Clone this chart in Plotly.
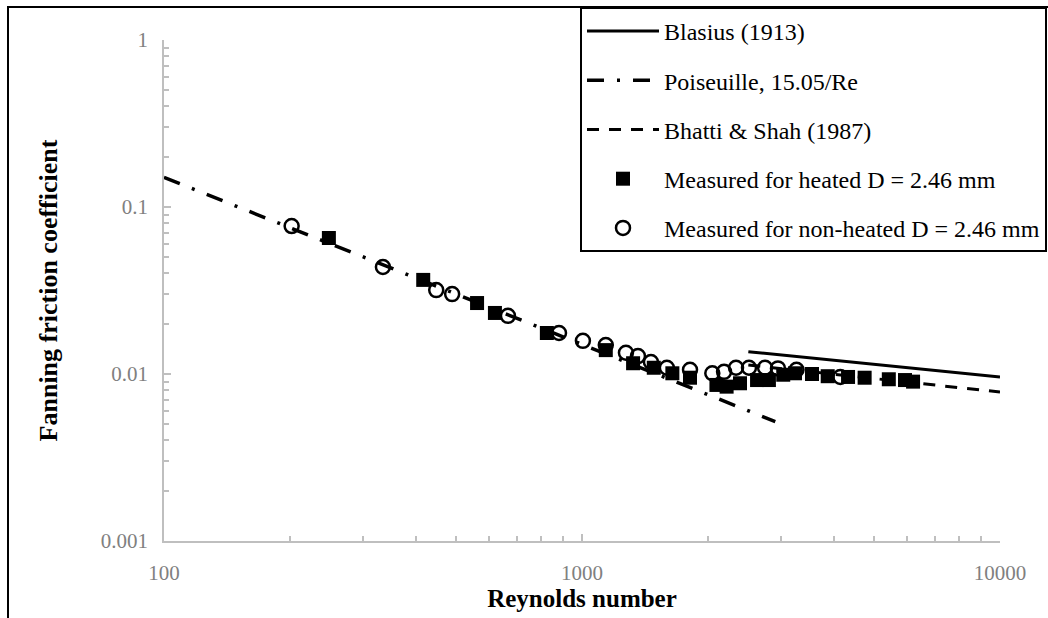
import plotly.graph_objects as go

# ---- data ----
blasius_re = [2500, 10000]
blasius_f = [0.0136, 0.0096]

poiseuille_re = [100, 2900]
poiseuille_f = [0.1505, 0.00519]

bhatti_re = [2500, 3000, 4000, 5000, 6000, 7000, 8000, 10000]
bhatti_f = [0.01131, 0.01076, 0.00995, 0.00936, 0.00892, 0.00856, 0.00827, 0.00780]

heated_re = [248, 417, 561, 619, 824, 1140, 1325, 1485, 1645, 1813, 2097, 2218, 2388,
             2623, 2800, 3030, 3233, 3550, 3871, 4330, 4744, 5420, 5926, 6195]
heated_f = [0.0652, 0.0366, 0.0266, 0.0232, 0.0176, 0.0139, 0.0116, 0.0109, 0.0101, 0.0095,
            0.0086, 0.0084, 0.0088, 0.0092, 0.0092, 0.0099, 0.0101, 0.0100, 0.0097, 0.0096,
            0.0095, 0.0093, 0.0092, 0.0090]

nonheated_re = [202, 334, 448, 489, 665, 881, 1005, 1140, 1274, 1361, 1462, 1596, 1813,
                2050, 2187, 2336, 2509, 2741, 2943, 3260, 4150]
nonheated_f = [0.0769, 0.0437, 0.0318, 0.0301, 0.0223, 0.0176, 0.0158, 0.0149, 0.0134, 0.0128,
               0.0118, 0.0109, 0.0106, 0.0101, 0.0103, 0.0109, 0.0109, 0.0109, 0.0108, 0.0106,
               0.0096]

series_names = ["Blasius (1913)", "Poiseuille, 15.05/Re", "Bhatti & Shah (1987)",
                "Measured for heated D = 2.46 mm", "Measured for non-heated D = 2.46 mm"]

x_tickvals = [100, 1000, 10000]
x_ticktext = ["100", "1000", "10000"]
y_tickvals = [0.001, 0.01, 0.1, 1]
y_ticktext = ["0.001", "0.01", "0.1", "1"]

FONT = "Times New Roman"

fig = go.Figure()
fig.add_trace(go.Scatter(x=blasius_re, y=blasius_f, mode="lines", name=series_names[0],
                         legendgroup="a", line=dict(color="black", width=3)))
fig.add_trace(go.Scatter(x=poiseuille_re, y=poiseuille_f, mode="lines", name=series_names[1],
                         legendgroup="b", line=dict(color="black", width=3.5, dash="17px,13px,3px,13px")))
fig.add_trace(go.Scatter(x=bhatti_re, y=bhatti_f, mode="lines", name=series_names[2],
                         legendgroup="c", line=dict(color="black", width=3, dash="12px,10px")))
fig.add_trace(go.Scatter(x=heated_re, y=heated_f, mode="markers", name=series_names[3],
                         legendgroup="d", marker=dict(symbol="square", size=14, color="black")))
fig.add_trace(go.Scatter(x=nonheated_re, y=nonheated_f, mode="markers",
                         name=series_names[4], legendgroup="e",
                         marker=dict(symbol="circle-open", size=14, color="black",
                                     line=dict(width=2.5, color="black"))))

axis_common = dict(
    type="log", showgrid=False, zeroline=False, showline=True, linecolor="#BFBFBF", linewidth=1.5,
    ticks="inside", ticklen=7, tickcolor="#BFBFBF", tickwidth=1.5,
    tickfont=dict(family=FONT, size=21, color="#808080"),
    minor=dict(ticks="inside", ticklen=5, tickcolor="#BFBFBF", tickwidth=1.5, dtick="D1"),
)

fig.update_layout(
    width=1048, height=618,
    margin=dict(l=164, r=48, t=40, b=77, autoexpand=False),
    paper_bgcolor="white", plot_bgcolor="white",
    font=dict(family=FONT, color="black"),
    xaxis=dict(axis_common, range=[2, 4], tickvals=x_tickvals, ticktext=x_ticktext,
               ticklabelstandoff=12, automargin=False,
               title=dict(text="<b>Reynolds number</b>", font=dict(family=FONT, size=25), standoff=6)),
    yaxis=dict(axis_common, range=[-3, 0], tickvals=y_tickvals, ticktext=y_ticktext,
               ticklabelstandoff=10, automargin=False,
               title=dict(text="<b>Fanning friction coefficient</b>", font=dict(family=FONT, size=26),
                          standoff=36)),
    legend=dict(x=(580 - 164) / 836, y=(541 - 7) / 501, xanchor="left", yanchor="top",
                bgcolor="white", bordercolor="black", borderwidth=2,
                font=dict(family=FONT, size=24, color="black"),
                tracegroupgap=15, itemwidth=72),
    showlegend=True,
)

# outer chart frame
fig.add_shape(type="rect", xref="paper", yref="paper",
              x0=(8 - 164) / 836, x1=1.08, y0=-0.2, y1=(541 - 7) / 501,
              line=dict(color="black", width=2), layer="below")

fig.write_html("out.html", config={"displayModeBar": False},
               post_script="document.body.style.margin='0';document.body.style.overflow='hidden';")
